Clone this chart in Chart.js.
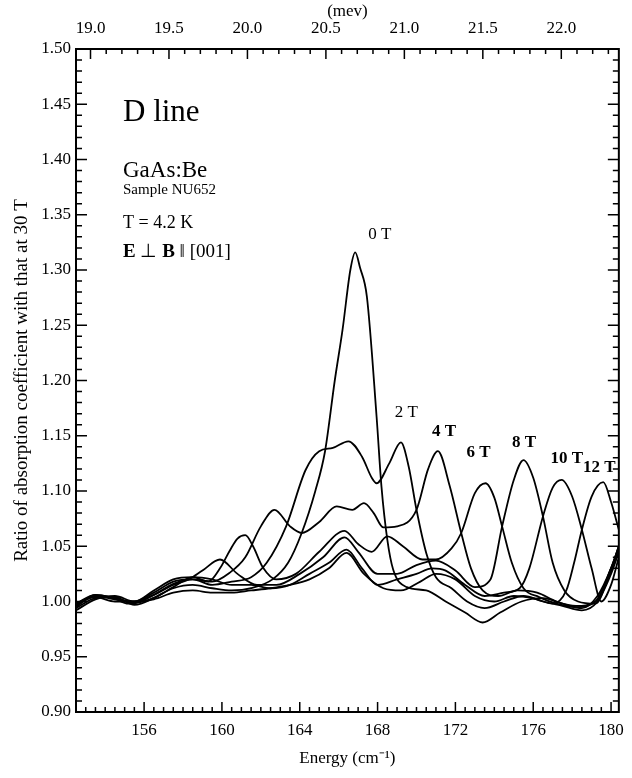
<!DOCTYPE html>
<html>
<head>
<meta charset="utf-8">
<script src="https://cdn.jsdelivr.net/npm/chart.js@4"></script>
<style>
  html, body { margin: 0; padding: 0; background: #fff; }
  #wrap { width: 632px; height: 778px; }
</style>
</head>
<body>
<div id="wrap"><canvas id="chart" width="632" height="778"></canvas></div>
<script>
// energy (cm-1) vs ratio
var B0 = [[152.5,0.995],[153.3,1.004],[154.2,1.004],[155.2,0.998],[156.3,1.002],[157.5,1.012],[158.5,1.015],[159.5,1.012],[160.5,1.01],[161.5,1.012],[162.6,1.02],[163.4,1.035],[164.1,1.062],[164.8,1.1],[165.3,1.136],[165.8,1.2],[166.2,1.246],[166.6,1.3],[166.85,1.316],[167.1,1.302],[167.45,1.276],[167.95,1.167],[168.2,1.104],[168.5,1.056],[168.8,1.029],[169.5,1.013],[170.5,1.01],[171.5,1.0],[172.5,0.99],[173.4,0.981],[174.3,0.99],[175.4,1.0],[176.5,1.003],[177.5,0.998],[178.5,0.994],[179.3,1.005],[180,1.03],[180.4,1.05]];
var B2 = [[152.5,0.998],[153.5,1.005],[154.5,1.002],[155.5,1.0],[156.5,1.008],[157.5,1.018],[158.5,1.02],[159.5,1.015],[160.5,1.018],[161.5,1.022],[162.3,1.035],[163.3,1.068],[164.3,1.119],[165.0,1.136],[165.7,1.139],[166.5,1.145],[167.2,1.131],[167.7,1.112],[167.95,1.107],[168.6,1.125],[169.2,1.144],[169.6,1.122],[170.0,1.083],[170.5,1.044],[171.0,1.022],[171.8,1.012],[172.6,1.0],[173.5,0.994],[174.5,1.0],[175.5,1.005],[176.5,1.0],[177.5,0.996],[178.5,0.992],[179.3,1.0],[180,1.025],[180.4,1.045]];
var B4 = [[152.5,0.996],[153.5,1.006],[154.5,1.003],[155.5,0.999],[156.5,1.006],[157.5,1.016],[158.5,1.02],[159.5,1.018],[160.4,1.026],[161.2,1.04],[162.0,1.068],[162.7,1.083],[163.5,1.068],[164.1,1.062],[165.0,1.072],[165.9,1.086],[166.7,1.083],[167.3,1.089],[167.8,1.08],[168.3,1.067],[169.0,1.068],[170.0,1.083],[170.6,1.12],[171.1,1.136],[171.7,1.105],[172.3,1.062],[172.8,1.03],[173.4,1.01],[174.2,1.005],[175.2,1.01],[176.2,1.008],[177.2,1.0],[178.2,0.996],[179.2,1.0],[180,1.028],[180.4,1.05]];
var B6 = [[152.5,0.997],[153.5,1.004],[154.5,1.0],[155.5,1.0],[156.5,1.01],[157.5,1.02],[158.5,1.022],[159.3,1.018],[159.9,1.03],[160.4,1.046],[160.8,1.057],[161.2,1.06],[161.6,1.05],[162.1,1.031],[162.8,1.02],[163.8,1.025],[165.0,1.045],[166.3,1.064],[167.0,1.052],[167.7,1.045],[168.5,1.059],[169.3,1.05],[170.3,1.038],[171.0,1.038],[171.8,1.048],[172.3,1.062],[173.0,1.098],[173.55,1.107],[174.0,1.094],[174.4,1.068],[174.9,1.035],[175.5,1.012],[176.3,1.004],[177.2,0.998],[178.2,0.995],[179.2,1.0],[180,1.03],[180.4,1.048]];
var B8 = [[152.5,0.998],[153.5,1.006],[154.5,1.003],[155.5,0.999],[156.5,1.006],[157.5,1.015],[158.3,1.02],[159.0,1.028],[159.9,1.038],[160.8,1.025],[161.8,1.015],[162.8,1.015],[164.0,1.025],[165.2,1.04],[166.3,1.058],[167.0,1.045],[168.0,1.025],[169.0,1.025],[170.0,1.033],[171.0,1.037],[172.0,1.028],[173.0,1.013],[173.8,1.02],[174.4,1.068],[175.0,1.11],[175.5,1.128],[176.0,1.112],[176.5,1.077],[177.0,1.035],[177.6,1.01],[178.3,1.0],[179.2,0.998],[180,1.03],[180.4,1.05]];
var B10 = [[152.5,0.994],[153.5,1.003],[154.5,1.004],[155.5,0.997],[156.5,1.003],[157.5,1.013],[158.5,1.022],[159.5,1.02],[160.5,1.015],[161.5,1.015],[162.5,1.012],[163.5,1.015],[164.5,1.025],[165.5,1.035],[166.4,1.047],[167.2,1.03],[168.0,1.015],[169.0,1.02],[170.0,1.025],[170.8,1.03],[171.5,1.028],[172.5,1.015],[173.5,1.005],[174.5,1.008],[175.3,1.012],[175.8,1.03],[176.5,1.077],[177.0,1.103],[177.46,1.11],[178.0,1.095],[178.5,1.065],[179.0,1.03],[179.5,1.0],[180,1.015],[180.4,1.04]];
var B12 = [[152.5,0.992],[153.5,1.002],[154.5,1.005],[155.5,1.0],[156.5,1.002],[157.5,1.008],[158.5,1.01],[159.5,1.008],[160.5,1.008],[161.5,1.01],[162.5,1.012],[163.5,1.015],[164.5,1.02],[165.5,1.03],[166.4,1.044],[167.3,1.025],[168.3,1.012],[169.2,1.01],[170.2,1.018],[171.0,1.025],[172.0,1.02],[173.0,1.005],[174.0,1.0],[175.0,1.005],[176.0,1.003],[177.0,0.998],[177.7,1.01],[178.1,1.035],[178.5,1.065],[179.0,1.095],[179.6,1.108],[180.0,1.09],[180.4,1.065]];

var SERIES = [B0, B2, B4, B6, B8, B10, B12];
var FIELD_LABELS = ['0 T', '2 T', '4 T', '6 T', '8 T', '10 T', '12 T'];
var LABEL_POS = [[168.11,1.3325],[169.48,1.171],[171.41,1.154],[173.19,1.135],[175.53,1.144],[177.72,1.129],[179.39,1.121]];

var X_TICKS = [156, 160, 164, 168, 172, 176, 180];
var Y_TICKS = [0.90, 0.95, 1.00, 1.05, 1.10, 1.15, 1.20, 1.25, 1.30, 1.35, 1.40, 1.45, 1.50];
var MEV_TICKS = [19.0, 19.5, 20.0, 20.5, 21.0, 21.5, 22.0];
var X_MIN = 152.5, X_MAX = 180.4;
var CM_TO_MEV = 0.123984;

var SERIF = '"Liberation Serif", "Times New Roman", serif';

function fixTicks(list) {
  return function(scale) {
    scale.ticks = list.map(function(v) { return {value: v}; });
  };
}

// inward ticks on all four sides + frame
var frameTicks = {
  id: 'frameTicks',
  afterDraw: function(chart) {
    var ctx = chart.ctx, a = chart.chartArea;
    var sx = chart.scales.x, sy = chart.scales.y, st = chart.scales.xTop;
    ctx.save();
    ctx.strokeStyle = '#000';
    ctx.lineWidth = 1.5;
    ctx.beginPath();
    var v, p, len;
    for (v = 153; v <= X_MAX + 1e-6; v += 0.5) {
      p = sx.getPixelForValue(v);
      len = (Math.abs(v % 4) < 1e-6) ? 10 : 5;
      ctx.moveTo(p, a.bottom); ctx.lineTo(p, a.bottom - len);
    }
    for (v = 19.0; v <= 22.36; v += 0.1) {
      var vv = Math.round(v * 10) / 10;
      p = st.getPixelForValue(vv);
      len = (Math.abs((vv * 2) - Math.round(vv * 2)) < 1e-6) ? 10 : 5;
      ctx.moveTo(p, a.top); ctx.lineTo(p, a.top + len);
    }
    for (var i = 0; i <= 60; i++) {
      v = 0.9 + i * 0.01;
      p = sy.getPixelForValue(v);
      len = (i % 5 === 0) ? 11 : 6;
      ctx.moveTo(a.left, p); ctx.lineTo(a.left + len, p);
      ctx.moveTo(a.right, p); ctx.lineTo(a.right - len, p);
    }
    ctx.stroke();
    ctx.lineWidth = 2;
    ctx.strokeRect(a.left, a.top, a.right - a.left, a.bottom - a.top);
    ctx.restore();
  }
};

var notes = {
  id: 'notes',
  afterDatasetsDraw: function(chart) {
    var ctx = chart.ctx, a = chart.chartArea;
    var sx = chart.scales.x, sy = chart.scales.y;
    ctx.save();
    ctx.fillStyle = '#000';
    ctx.textAlign = 'left';
    ctx.textBaseline = 'alphabetic';
    var x0 = a.left + 47;
    ctx.font = '31px ' + SERIF;
    ctx.fillText('D line', x0, a.top + 72);
    ctx.font = '23px ' + SERIF;
    ctx.fillText('GaAs:Be', x0, a.top + 128);
    ctx.font = '15px ' + SERIF;
    ctx.fillText('Sample NU652', x0, a.top + 145);
    ctx.font = '18px ' + SERIF;
    ctx.fillText('T = 4.2 K', x0, a.top + 179);
    var parts = [['E', true], [' \u22A5 ', false], ['B', true], [' \u2016 [001]', false]];
    var cx = x0;
    parts.forEach(function(pt) {
      ctx.font = (pt[1] ? 'bold ' : '') + '19px ' + SERIF;
      ctx.fillText(pt[0], cx, a.top + 208);
      cx += ctx.measureText(pt[0]).width;
    });
    ctx.textAlign = 'center';
    ctx.textBaseline = 'middle';
    FIELD_LABELS.forEach(function(t, k) {
      ctx.font = (k >= 2 ? 'bold ' : '') + '17px ' + SERIF;
      ctx.fillText(t, sx.getPixelForValue(LABEL_POS[k][0]), sy.getPixelForValue(LABEL_POS[k][1]));
    });
    ctx.restore();
  }
};

var datasets = SERIES.map(function(s, k) {
  return {
    label: FIELD_LABELS[k],
    data: s.map(function(p) { return {x: p[0], y: p[1]}; }),
    borderColor: '#000',
    borderWidth: 1.8,
    pointRadius: 0,
    fill: false,
    tension: 0.4,
    cubicInterpolationMode: 'monotone'
  };
});

new Chart(document.getElementById('chart').getContext('2d'), {
  type: 'line',
  data: { datasets: datasets },
  plugins: [frameTicks, notes],
  options: {
    responsive: false,
    animation: false,
    layout: { padding: { right: 7, left: 0, top: 0, bottom: 0 } },
    plugins: { legend: { display: false }, tooltip: { enabled: false } },
    scales: {
      x: {
        type: 'linear', position: 'bottom', min: X_MIN, max: X_MAX,
        afterBuildTicks: fixTicks(X_TICKS),
        afterFit: function(s) { s.height = 66; },
        grid: { display: false, drawTicks: false },
        border: { display: false },
        ticks: { color: '#000', padding: 8, maxRotation: 0, autoSkip: false, font: { family: SERIF, size: 17 } },
        title: { display: true, text: 'Energy (cm\u207B\u00B9)', color: '#000', font: { family: SERIF, size: 17 }, padding: { top: 0, bottom: 9 } }
      },
      xTop: {
        type: 'linear', position: 'top', min: X_MIN * CM_TO_MEV, max: X_MAX * CM_TO_MEV,
        afterBuildTicks: fixTicks(MEV_TICKS),
        afterFit: function(s) { s.height = 49; },
        grid: { display: false, drawTicks: false },
        border: { display: false },
        ticks: { color: '#000', padding: 10, maxRotation: 0, autoSkip: false, font: { family: SERIF, size: 17 },
          callback: function(v) { return v.toFixed(1); } },
        title: { display: true, text: '(mev)', color: '#000', font: { family: SERIF, size: 17 }, padding: { top: 1, bottom: 0 } }
      },
      y: {
        type: 'linear', position: 'left', min: 0.9, max: 1.5,
        afterBuildTicks: fixTicks(Y_TICKS),
        afterFit: function(s) { s.width = 76; },
        grid: { display: false, drawTicks: false },
        border: { display: false },
        ticks: { color: '#000', padding: 5, autoSkip: false, font: { family: SERIF, size: 17 },
          callback: function(v) { return v.toFixed(2); } },
        title: { display: true, text: 'Ratio of absorption coefficient with that at 30 T', color: '#000', font: { family: SERIF, size: 19 }, padding: { top: 11, bottom: 0 } }
      }
    }
  }
});
</script>
</body>
</html>
